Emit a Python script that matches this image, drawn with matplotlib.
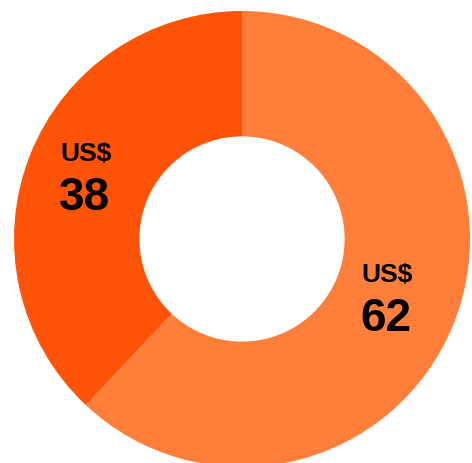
import matplotlib
matplotlib.use('Agg')
import matplotlib.pyplot as plt

labels = ['62', '38']
values = [62, 38]
colors = ['#FF7F3A', '#FF5308']
prefix = 'US$'

# label anchor points (left, baseline) in data units, pie radius = 1
label_pos = [(0.522, -0.184), (-0.797, 0.346)]

fig = plt.figure(figsize=(4.72, 4.64), dpi=100)
ax = fig.add_axes([0, 0, 1, 1])
ax.pie(values, colors=colors, startangle=90, counterclock=False,
       radius=1.0, wedgeprops=dict(width=0.55, linewidth=0))
ax.set_xlim(-242 / 228, (472 - 242) / 228)
ax.set_ylim(-(464 - 240) / 228, 240 / 228)
ax.set_aspect('auto')
ax.axis('off')

for lab, (x, y) in zip(labels, label_pos):
    ax.text(x, y, prefix, ha='left', va='baseline', fontsize=19,
            fontweight='bold', family='Liberation Sans', color='black')
    ax.text(x - 0.004, y - 0.215, lab, ha='left', va='baseline', fontsize=33,
            fontweight='bold', family='Liberation Sans', color='black')

print('saving graph to out.png')
fig.savefig('out.png', dpi=100)
plt.close(fig)
